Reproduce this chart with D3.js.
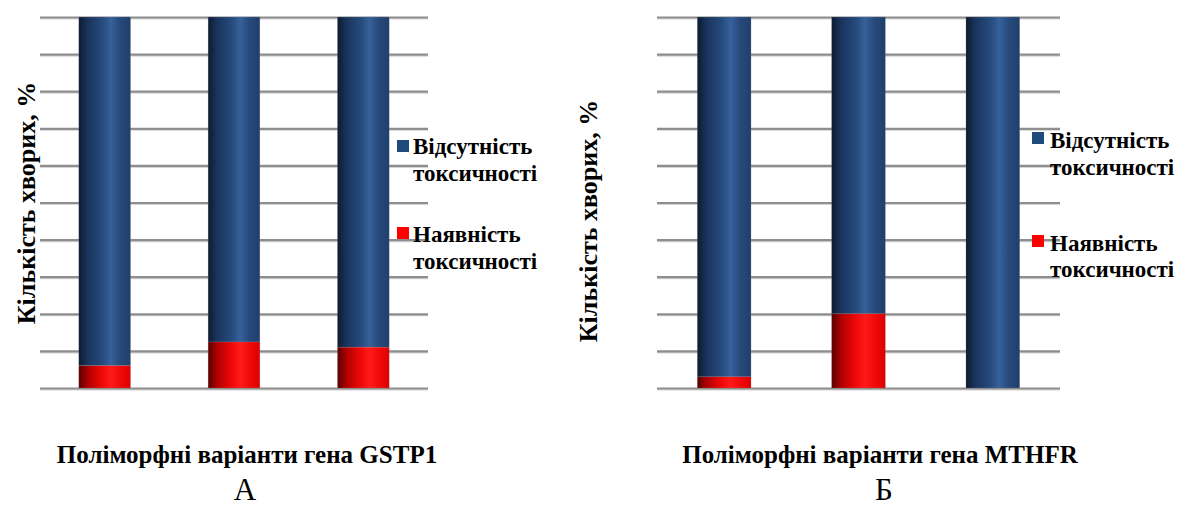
<!DOCTYPE html>
<html>
<head>
<meta charset="utf-8">
<script src="https://cdn.jsdelivr.net/npm/d3@7"></script>
<style>
  html, body { margin: 0; padding: 0; background: #fff; }
  svg { display: block; }
  text { font-family: "Times New Roman", "Liberation Serif", "DejaVu Serif", serif; fill: #000; }
</style>
</head>
<body>
<svg id="chart" width="1181" height="507"></svg>
<script>
// Stacked percentage bars: toxicity share by polymorphic variant
const gstpVariants = ["Варіант 1", "Варіант 2", "Варіант 3"];
const gstpToxic    = [6.0, 12.4, 11.0];
const gstpNoToxic  = [94.0, 87.6, 89.0];

const mthfrVariants = ["Варіант 1", "Варіант 2", "Варіант 3"];
const mthfrToxic    = [3.0, 20.0, 0.0];
const mthfrNoToxic  = [97.0, 80.0, 100.0];

const seriesNames = ["Відсутність токсичності", "Наявність токсичності"];
const legendLines = [["Відсутність", "токсичності"], ["Наявність", "токсичності"]];
const yTicks = d3.range(0, 101, 10);
const yTitle = "Кількість хворих, %";
const panelTitles = ["Поліморфні варіанти гена GSTP1", "Поліморфні варіанти гена MTHFR"];
const panelLetters = ["А", "Б"];

const svg = d3.select("#chart");
const defs = svg.append("defs");

function hGradient(id, stops) {
  const g = defs.append("linearGradient").attr("id", id)
    .attr("x1", 0).attr("x2", 1).attr("y1", 0).attr("y2", 0);
  stops.forEach(([o, c]) => g.append("stop").attr("offset", o).attr("stop-color", c));
}
hGradient("gBlue", [[0, "#0d1b2f"], [0.18, "#1a355e"], [0.45, "#254a7c"], [0.62, "#36619a"], [0.8, "#27497b"], [1, "#1f3f6d"]]);
hGradient("gRed",  [[0, "#5a0000"], [0.18, "#b00000"], [0.45, "#f00808"], [0.62, "#ff1a1a"], [0.8, "#f20a0a"], [1, "#dc0000"]]);

const fills = ["url(#gBlue)", "url(#gRed)"];
const swatch = ["#1f4a7c", "#ff0000"];

const panels = [
  { variants: gstpVariants, toxic: gstpToxic, noToxic: gstpNoToxic,
    x0: 40, x1: 428, titleX: 247, letterX: 245, yTitleX: 35, yTitleY: 203,
    legend: { x: 397, y: [140, 227], textX: 413, base: [[154, 181], [242, 269]] } },
  { variants: mthfrVariants, toxic: mthfrToxic, noToxic: mthfrNoToxic,
    x0: 657, x1: 1060, titleX: 880, letterX: 884, yTitleX: 597, yTitleY: 221,
    legend: { x: 1032, y: [132, 235], textX: 1050, base: [[148, 175], [251, 277]] } }
];

const yTop = 17, yBottom = 388;

panels.forEach((p, pi) => {
  const g = svg.append("g");
  const y = d3.scaleLinear().domain([0, 100]).range([yBottom, yTop]);
  const x = d3.scaleBand().domain(p.variants).range([p.x0, p.x1])
    .paddingInner(0.6).paddingOuter(0.3);

  // horizontal gridlines with a soft shadow
  const grid = g.append("g");
  grid.selectAll("line.shadow").data(yTicks).join("line")
    .attr("class", "shadow")
    .attr("x1", p.x0).attr("x2", p.x1)
    .attr("y1", d => y(d) + 1.8).attr("y2", d => y(d) + 1.8)
    .attr("stroke", "#d6d6d6").attr("stroke-width", 1.5);
  const axis = d3.axisLeft(y).tickValues(yTicks).tickSize(-(p.x1 - p.x0)).tickFormat("");
  const ag = grid.append("g").attr("transform", `translate(${p.x0},0)`).call(axis);
  ag.select(".domain").remove();
  ag.selectAll(".tick line").attr("stroke", "#8e8e8e").attr("stroke-width", 2.2);

  // stacked bars: toxicity at the bottom, absence on top
  const rows = p.variants.map((v, i) => ({ key: v, toxic: p.toxic[i], noToxic: p.noToxic[i] }));
  const stacked = d3.stack().keys(["noToxic", "toxic"]).order(d3.stackOrderReverse)(rows);
  stacked.forEach(layer => {
    const si = layer.key === "noToxic" ? 0 : 1;
    g.append("g").selectAll("rect").data(layer).join("rect")
      .attr("x", d => x(d.data.key))
      .attr("width", x.bandwidth())
      .attr("y", d => y(d[1]))
      .attr("height", d => Math.max(0, y(d[0]) - y(d[1])))
      .attr("fill", fills[si])
      .attr("stroke", "rgba(150,150,150,0.35)").attr("stroke-width", 0.6);
  });

  // legend
  const lg = g.append("g");
  seriesNames.forEach((name, si) => {
    lg.append("rect").attr("x", p.legend.x).attr("y", p.legend.y[si])
      .attr("width", 12).attr("height", 12).attr("fill", swatch[si]);
    legendLines[si].forEach((ln, li) => {
      lg.append("text").attr("x", p.legend.textX).attr("y", p.legend.base[si][li])
        .attr("font-size", 23).attr("font-weight", "bold").text(ln);
    });
  });

  // axis title
  g.append("text")
    .attr("transform", `translate(${p.yTitleX},${p.yTitleY}) rotate(-90)`)
    .attr("text-anchor", "middle").attr("font-size", 26).attr("font-weight", "bold")
    .text(yTitle);

  // panel caption and letter
  g.append("text").attr("x", p.titleX).attr("y", 463).attr("text-anchor", "middle")
    .attr("font-size", 25).attr("font-weight", "bold").text(panelTitles[pi]);
  g.append("text").attr("x", p.letterX).attr("y", 500).attr("text-anchor", "middle")
    .attr("font-size", 31).text(panelLetters[pi]);
});
</script>
</body>
</html>
